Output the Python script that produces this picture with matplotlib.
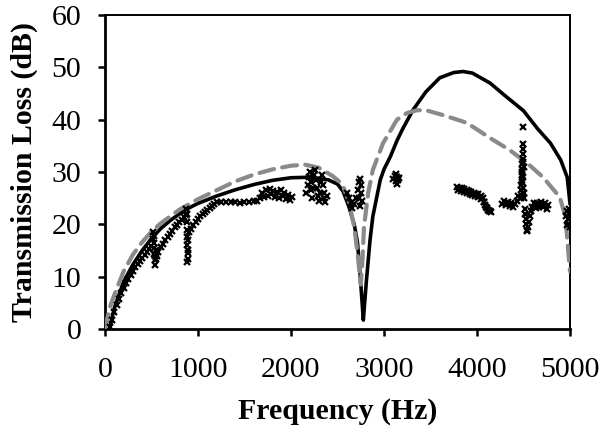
import matplotlib
matplotlib.use("Agg")
import matplotlib.pyplot as plt

# black solid curve
black_freq = [50, 100, 200, 300, 400, 500, 600, 700, 800, 900, 1000, 1200, 1400, 1600,
              1800, 2000, 2200, 2400, 2500, 2560, 2620, 2680, 2715, 2745, 2765, 2778,
              2790, 2810, 2830, 2850, 2880, 2920, 2960, 3000, 3070, 3140, 3200, 3310,
              3450, 3600, 3750, 3850, 3950, 4140, 4300, 4500, 4650, 4790, 4900, 4970, 5000]
black_tl = [0, 4, 9, 12.3, 15, 17.3, 19.2, 20.7, 22, 23.1, 24, 25.4, 26.6, 27.6,
            28.4, 28.9, 29, 28.5, 27.7, 26.3, 23.5, 20, 16.5, 10, 5, 1.7,
            4.5, 9, 13, 17, 21.5, 25, 28.5, 30.5, 33, 36, 38.2, 41.8,
            45.3, 48, 49, 49.2, 48.9, 47, 44.6, 41.7, 38.3, 35.5, 32.3, 29, 24]

# grey dashed curve
grey_freq = [0, 50, 100, 200, 300, 400, 500, 600, 800, 1000, 1200, 1400, 1600, 1800,
             2000, 2150, 2300, 2450, 2550, 2620, 2680, 2720, 2750, 2765, 2785, 2830,
             2880, 2990, 3140, 3250, 3355, 3450, 3630, 3890, 4140, 4350, 4540, 4710,
             4890, 4950, 5000]
grey_tl = [0, 4, 6.5, 11, 14.2, 16.6, 18.6, 20.2, 22.8, 24.8, 26.5, 28.2, 29.5, 30.5,
           31.2, 31.4, 30.8, 29.2, 27.7, 24.5, 19.5, 13.8, 8.5, 12, 19.5, 26,
           30.4, 35.5, 40, 41.3, 41.8, 41.8, 40.9, 39.4, 36.5, 34.2, 31.7, 29,
           25.2, 21.5, 11]

# measured points (x markers)
marker_freq = [
    50, 75, 100, 125, 150, 175, 200, 225, 250, 275, 300, 325, 350, 375, 400, 425, 450, 475, 500,
    515, 520, 525, 525, 530, 530, 535, 540, 540, 545, 545,
    555, 575, 600, 625, 650, 675, 700, 725, 750, 775, 800, 825, 850, 870,
    875, 880, 880, 885, 885, 885, 890, 890, 885, 895, 895,
    900, 925, 950, 975, 1000, 1025, 1050, 1075, 1100, 1125, 1150, 1175, 1200, 1250, 1300,
    1350, 1400, 1450, 1500, 1550, 1600, 1630,
    1670, 1690, 1710, 1730, 1750, 1770, 1790, 1810, 1830, 1850, 1870, 1890, 1910, 1930,
    1950, 1970, 1990, 2010,
    2160, 2180, 2190, 2200, 2210, 2220, 2230, 2240, 2250, 2260, 2270, 2280, 2290, 2300,
    2310, 2320, 2330, 2340, 2350, 2360, 2370, 2385,
    2600, 2620, 2640, 2660, 2680, 2700, 2720, 2730, 2740, 2750, 2755, 2760, 2745, 2735,
    3100, 3115, 3130, 3140, 3150, 3165, 3140, 3125,
    3790, 3815, 3840, 3865, 3890, 3915, 3940, 3965, 3990, 4015, 4040, 4060, 4075, 4090,
    4105, 4120, 4135, 4150,
    3800, 3830, 3860, 3890, 3920, 3950, 3980, 4010, 4040, 4070, 4100, 4130,
    4270, 4290, 4310, 4330, 4350, 4370, 4390, 4410, 4430, 4445,
    4470, 4475, 4480, 4480, 4485, 4485, 4490, 4490, 4495, 4495, 4500, 4470, 4490, 4500, 4505,
    4480, 4485, 4490, 4495, 4500, 4505, 4510,
    4515, 4520, 4525, 4530, 4535, 4540, 4550, 4560, 4570, 4580, 4595,
    4610, 4630, 4650, 4670, 4690, 4710, 4730, 4750, 4765,
    4955, 4965, 4975, 4985, 4995, 5000, 4990, 4970,
]
marker_tl = [
    0.3, 1.8, 3.2, 4.6, 5.8, 6.9, 7.9, 8.8, 9.6, 10.4, 11.1, 11.8, 12.4, 13, 13.6, 14.2, 14.8, 15.3, 15.9,
    17.2, 18.5, 17.8, 16.5, 15.5, 14.3, 13.2, 12.2, 14, 13.3, 15,
    14, 14.8, 15.6, 16.3, 17, 17.6, 18.2, 18.8, 19.4, 19.9, 20.4, 20.9, 21.4, 21.8,
    23, 22, 20.5, 19, 17.5, 16, 14.5, 13.3, 12.8, 15, 17,
    18.5, 19.2, 19.8, 20.4, 21, 21.5, 22, 22.4, 22.8, 23.2, 23.5, 23.8, 24.2, 24.2, 24.3,
    24.2, 24.3, 24.1, 24.3, 24.2, 24.4, 24.5,
    25, 26, 25.3, 26.5, 25.5, 26.8, 25.7, 26.4, 25.2, 26.2, 25, 26.5, 25.4, 26,
    24.8, 25.6, 24.6, 25.2,
    26, 27.5, 29, 30, 28, 26.5, 25, 27, 29.5, 30.4, 28.5, 27, 25.5, 24.5,
    26, 28, 29.5, 27.5, 26, 25, 24.3, 25.5,
    26, 25, 24, 23.2, 23.8, 25, 26.5, 28, 28.7, 27.5, 26, 24.5, 23.5, 25,
    28.6, 29.3, 28.2, 29, 28.4, 28.9, 27.7, 29.6,
    27.2, 27, 26.9, 26.7, 26.5, 26.4, 26.2, 26, 25.8, 25.7, 25.5, 25, 24.3, 23.7,
    23.2, 22.8, 22.5, 22.3,
    26.5, 26.3, 26.1, 26, 25.8, 25.6, 25.4, 25.2, 24.9, 24.3, 23.3, 22.6,
    23.8, 24.5, 23.6, 24.2, 23.5, 24, 23.3, 23.8, 24.5, 25.5,
    26.5, 27.5, 28.5, 29.5, 30.5, 31.5, 32.5, 33.5, 34.3, 35.3, 38.6, 25, 26, 27, 25,
    28, 30, 32, 27, 29, 31, 26,
    23, 22, 21, 20, 19, 18.7, 19.5, 20.5, 21.5, 22.5, 23.3,
    24, 23.2, 24.1, 23.3, 24.2, 23.4, 24, 23, 23.6,
    21.5, 22.5, 21, 20, 22, 19.5, 23, 19.8,
]

x_ticks = [0, 1000, 2000, 3000, 4000, 5000]
y_ticks = [0, 10, 20, 30, 40, 50, 60]

plt.rcParams['font.family'] = ['Liberation Serif', 'DejaVu Serif']

fig = plt.figure(figsize=(6.04, 4.33), dpi=100)
ax = fig.add_axes([0.1738, 0.2402, 0.9437 - 0.1738, 0.9654 - 0.2402])

ax.plot(black_freq, black_tl, color='black', lw=2.6, zorder=2)
ax.plot(grey_freq, grey_tl, color='#8a8a8a', lw=3.0, dashes=(3.6, 2.0),
        dash_capstyle='round', zorder=3)
ax.plot(marker_freq, marker_tl, 'x', color='black', ms=4.5, mew=1.6, zorder=4)

ax.set_xlim(0, 5000)
ax.set_ylim(0, 60)
ax.set_xticks(x_ticks)
ax.set_yticks(y_ticks)
ax.tick_params(direction='out', length=5, width=1.8, labelsize=21.5)
ax.tick_params(axis='y', pad=12)
ax.tick_params(axis='x', pad=15)

for side in ['left', 'bottom']:
    ax.spines[side].set_linewidth(2.0)
for side in ['top', 'right']:
    ax.spines[side].set_linewidth(1.4)

ax.set_xlabel('Frequency (Hz)', fontsize=21.5, fontweight='bold', labelpad=11)
ax.set_ylabel('Transmission Loss (dB)', fontsize=21.5, fontweight='bold', labelpad=10)

fig.savefig('out.png', dpi=100)
